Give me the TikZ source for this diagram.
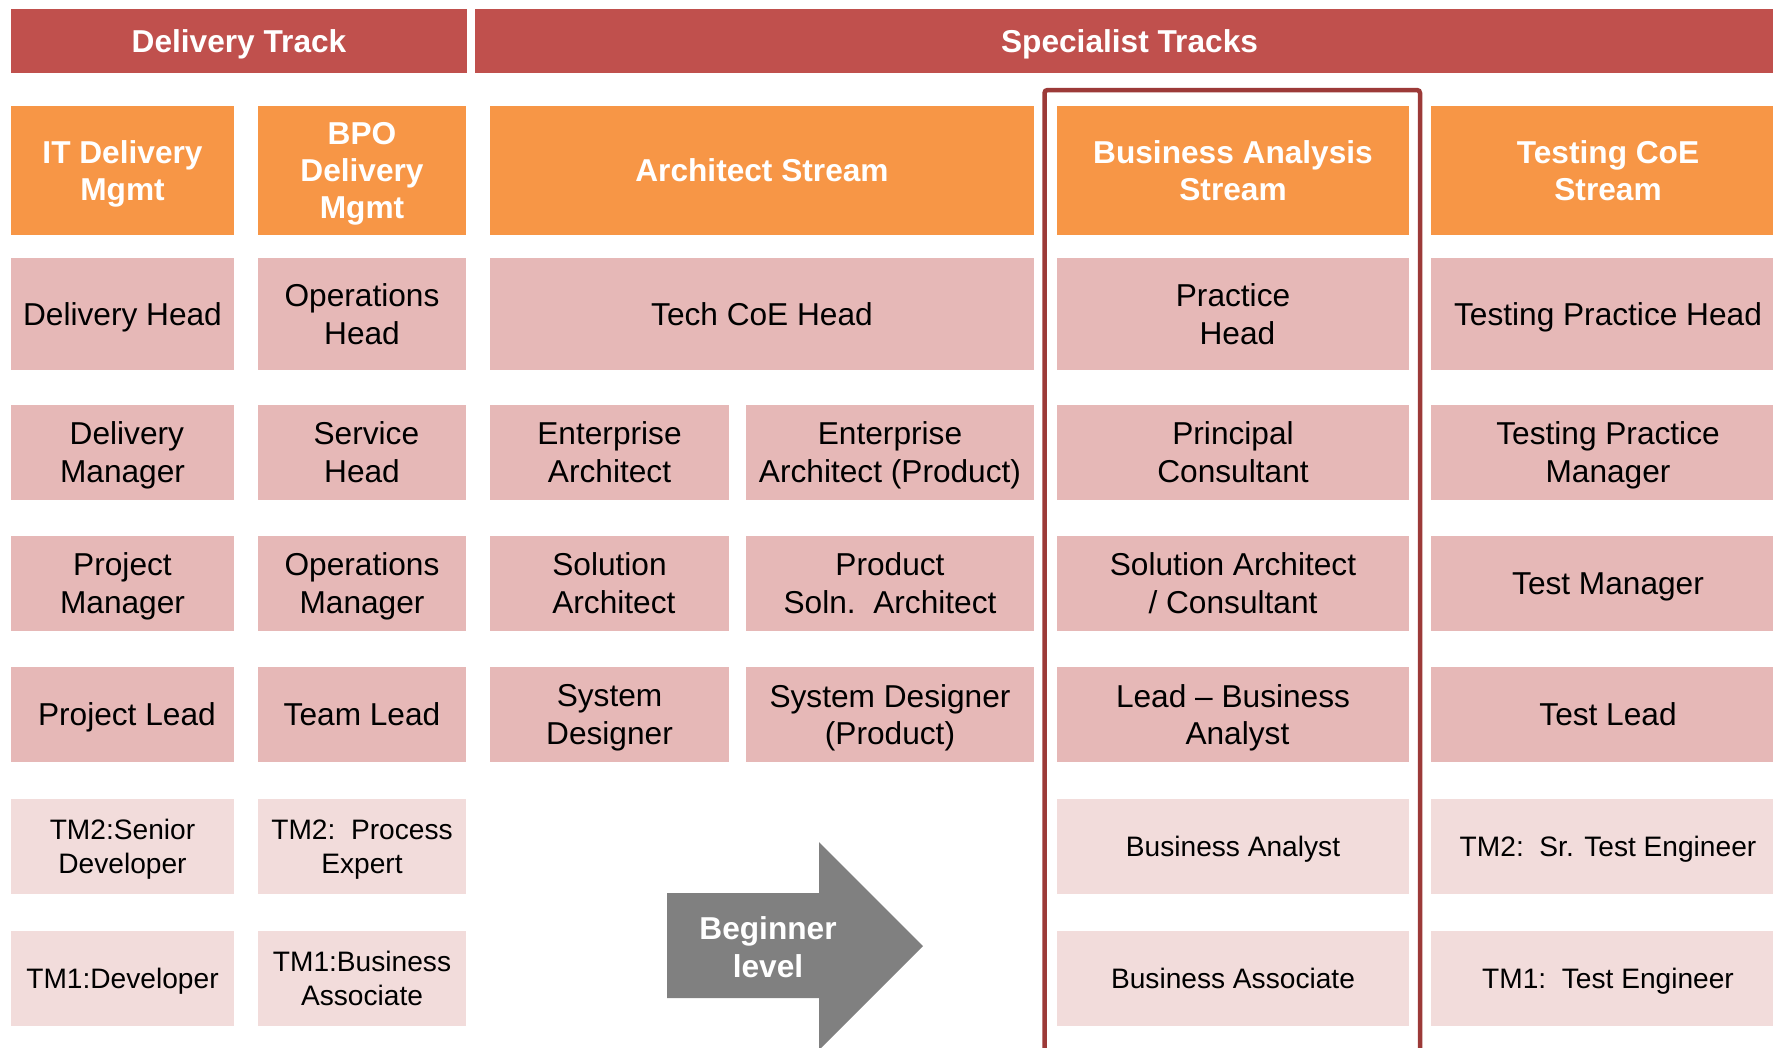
\documentclass[tikz,border=0pt]{standalone}
\usepackage{fontspec}
\setmainfont{Liberation Sans}
\usepackage{tikz}

\definecolor{trackred}{HTML}{C0504D}
\definecolor{streamorange}{HTML}{F79646}
\definecolor{rolepink}{HTML}{E6B8B7}
\definecolor{entrypink}{HTML}{F2DCDB}
\definecolor{framered}{HTML}{9C3A38}
\definecolor{arrowgray}{HTML}{808080}

\tikzset{
  track/.style={text depth=0pt, fill=trackred, text=white, inner sep=0pt, minimum height=0.64cm,
    font=\fontsize{9}{10.6}\selectfont\bfseries},
  stream/.style={text depth=0pt, fill=streamorange, text=white, inner sep=0pt, minimum height=1.29cm,
    align=center, font=\fontsize{9}{10.6}\selectfont\bfseries},
  role/.style={text depth=0pt, fill=rolepink, inner sep=0pt, minimum height=0.95cm,
    align=center, font=\fontsize{9}{10.8}\selectfont},
  tallrole/.style={role, minimum height=1.12cm},
  entry/.style={text depth=0pt, fill=entrypink, inner sep=0pt, minimum height=0.95cm,
    align=center, font=\fontsize{8}{9.7}\selectfont},
  itcol/.style={minimum width=2.23cm},
  bpocol/.style={minimum width=2.08cm},
  archcol/.style={minimum width=5.44cm},
  archA/.style={minimum width=2.39cm},
  archB/.style={minimum width=2.88cm},
  bacol/.style={minimum width=3.52cm},
  testcol/.style={minimum width=3.54cm}
}

\begin{document}
\begin{tikzpicture}[x=0.01cm, y=-0.01cm]
\useasboundingbox (0,0) rectangle (1773,1047);
\fill[white] (0,0) rectangle (1773,1047);
\clip (0,0) rectangle (1773,1047);

\node[track, minimum width=4.56cm] (delivery) at (239,41) {Delivery Track};
\node[track, minimum width=13.09cm] (specialist) at (1129.5,41) {Specialist Tracks};

\draw[framered, line width=0.045cm, rounded corners=0.03cm]
  (1044.5,1070) -- (1044.5,90) -- (1420,90) -- (1420,1070);

\node[stream, itcol] (itstream) at (122.5,170.5) {IT Delivery\\Mgmt};
\node[stream, bpocol] (bpostream) at (362,170.5) {BPO\\Delivery\\Mgmt};
\node[stream, archcol] (archstream) at (762,170.5) {Architect Stream};
\node[stream, bacol] (bastream) at (1233,170.5) {Business Analysis\\Stream};
\node[stream, testcol] (teststream) at (1608,170.5) {Testing CoE\\Stream};

\node[tallrole, itcol] (dhead) at (122.5,314) {Delivery Head};
\node[tallrole, bpocol] (opshead) at (362,314) {Operations\\Head};
\node[tallrole, archcol] (techhead) at (762,314) {Tech CoE Head};
\node[tallrole, bacol] (prachead) at (1233,314) {Practice\\\ Head};
\node[tallrole, testcol] (testhead) at (1608,314) {Testing Practice Head};

\node[role, itcol] (dmgr) at (122.5,452.5) {\ Delivery\\Manager};
\node[role, bpocol] (svchead) at (362,452.5) {\ Service\\Head};
\node[role, archA] (entarch) at (609.5,452.5) {Enterprise\\Architect};
\node[role, archB] (entprod) at (890,452.5) {Enterprise\\Architect (Product)};
\node[role, bacol] (princ) at (1233,452.5) {Principal\\Consultant};
\node[role, testcol] (testpmgr) at (1608,452.5) {Testing Practice\\Manager};

\node[role, itcol] (pmgr) at (122.5,583.5) {Project\\Manager};
\node[role, bpocol] (opsmgr) at (362,583.5) {Operations\\Manager};
\node[role, archA] (solarch) at (609.5,583.5) {Solution\\\ Architect};
\node[role, archB] (prodsol) at (890,583.5) {Product\\Soln.\ \ Architect};
\node[role, bacol] (solcons) at (1233,583.5) {Solution Architect\\/ Consultant};
\node[role, testcol] (testmgr) at (1608,583.5) {Test Manager};

\node[role, itcol] (plead) at (122.5,714.5) {\ Project Lead};
\node[role, bpocol] (tlead) at (362,714.5) {Team Lead};
\node[role, archA] (sysdes) at (609.5,714.5) {System\\Designer};
\node[role, archB] (sysprod) at (890,714.5) {System Designer\\(Product)};
\node[role, bacol] (balead) at (1233,714.5) {Lead -- Business\\\ Analyst};
\node[role, testcol] (testlead) at (1608,714.5) {Test Lead};

\node[entry, itcol] (srdev) at (122.5,846.5) {TM2:Senior\\Developer};
\node[entry, bpocol] (procexp) at (362,846.5) {TM2:\ \ Process\\Expert};
\node[entry, bacol] (banalyst) at (1233,846.5) {Business Analyst};
\node[entry, testcol] (srtest) at (1608,846.5) {TM2:\ \ Sr. Test Engineer};

\node[entry, itcol] (dev) at (122.5,978) {TM1:Developer};
\node[entry, bpocol] (busassoc) at (362,978) {TM1:Business\\Associate};
\node[entry, bacol] (baassoc) at (1233,978) {Business Associate};
\node[entry, testcol] (tester) at (1608,978) {TM1:\ \ Test Engineer};

\fill[arrowgray] (667,893) -- (819,893) -- (819,842) -- (923,946)
  -- (819,1050) -- (819,998) -- (667,998) -- cycle;
\node[text depth=0pt, text=white, align=center, font=\fontsize{9}{10.6}\selectfont\bfseries]
  (beginner) at (768,947) {Beginner\\level};
\end{tikzpicture}
\end{document}
